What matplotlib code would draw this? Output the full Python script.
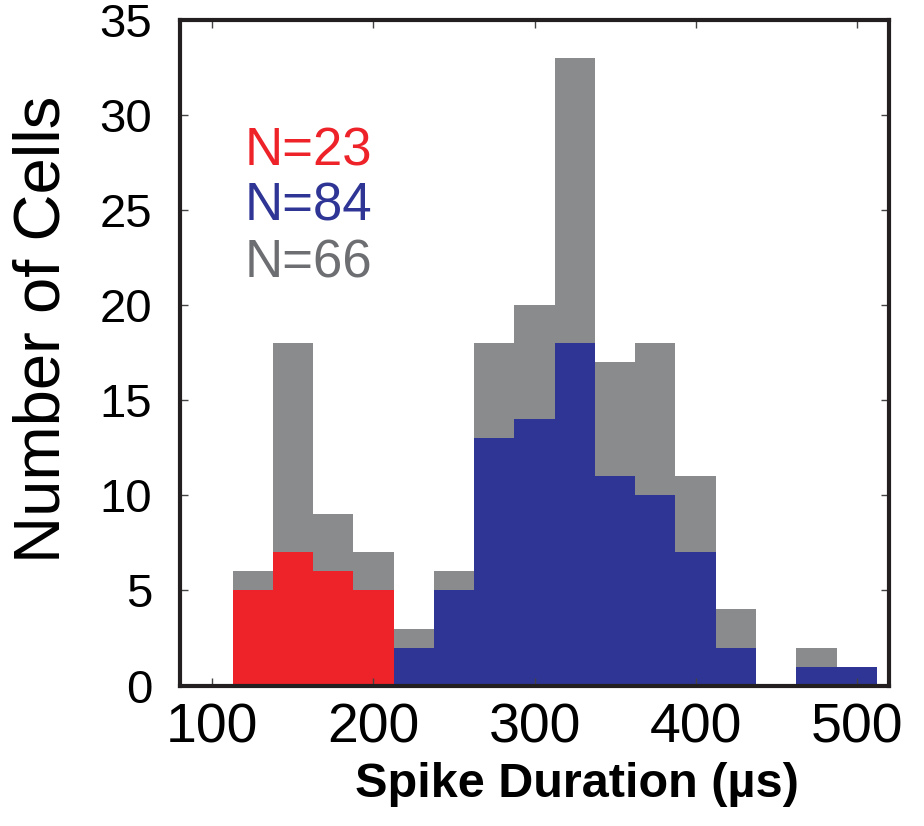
import matplotlib
matplotlib.use("Agg")
import matplotlib.pyplot as plt
import numpy as np

# bin centres (µs), bins of 25 µs
bin_centres = [125, 150, 175, 200, 225, 250, 275, 300, 325, 350, 375, 400, 425, 450, 475, 500]
red_counts = [5, 7, 6, 5, 0, 0, 0, 0, 0, 0, 0, 0, 0, 0, 0, 0]
blue_counts = [0, 0, 0, 0, 2, 5, 13, 14, 18, 11, 10, 7, 2, 0, 1, 1]
gray_counts = [1, 11, 3, 2, 1, 1, 5, 6, 15, 6, 8, 4, 2, 0, 1, 0]

labels_n = ["N=23", "N=84", "N=66"]
x_ticks = [100, 200, 300, 400, 500]
y_ticks = [0, 5, 10, 15, 20, 25, 30, 35]

RED = "#ee2229"
BLUE = "#2e3594"
GRAY = "#8a8b8d"
TXT_GRAY = "#6d6e71"

plt.rcParams["font.family"] = ["Liberation Sans", "DejaVu Sans"]

fig = plt.figure(figsize=(9.24, 8.26), dpi=100)
ax = fig.add_axes([0.195, 0.17, 0.767, 0.806])

colored = np.array(red_counts) + np.array(blue_counts)
ax.bar(bin_centres, red_counts, width=25, color=RED, linewidth=0)
ax.bar(bin_centres, blue_counts, width=25, bottom=red_counts, color=BLUE, linewidth=0)
ax.bar(bin_centres, gray_counts, width=25, bottom=colored, color=GRAY, linewidth=0)

ax.set_xlim(80, 520)
ax.set_ylim(0, 35)
ax.set_xticks(x_ticks)
ax.set_yticks(y_ticks)
ax.tick_params(direction="in", top=True, right=True, length=6, width=1, color="#444444")
ax.tick_params(axis="y", labelsize=34, pad=20)
ax.tick_params(axis="x", labelsize=40, pad=12)
for lab in ax.get_xticklabels():
    lab.set_family(["Liberation Sans Narrow", "Liberation Sans", "DejaVu Sans"])

for s in ax.spines.values():
    s.set_linewidth(3)
    s.set_color("#231f20")

ax.set_ylabel("Number of Cells", fontsize=47)
ax.yaxis.set_label_coords(-0.152, 0.535)
ax.set_xlabel("Spike Duration (µs)", fontsize=35, fontweight="bold")
ax.xaxis.set_label_coords(0.56, -0.115)

colors_n = [RED, BLUE, TXT_GRAY]
y_n = [28.1, 25.2, 22.2]
for t, c, yy in zip(labels_n, colors_n, y_n):
    ax.text(120, yy, t, color=c, fontsize=38, va="center", ha="left")

fig.savefig("out.png", dpi=100)
